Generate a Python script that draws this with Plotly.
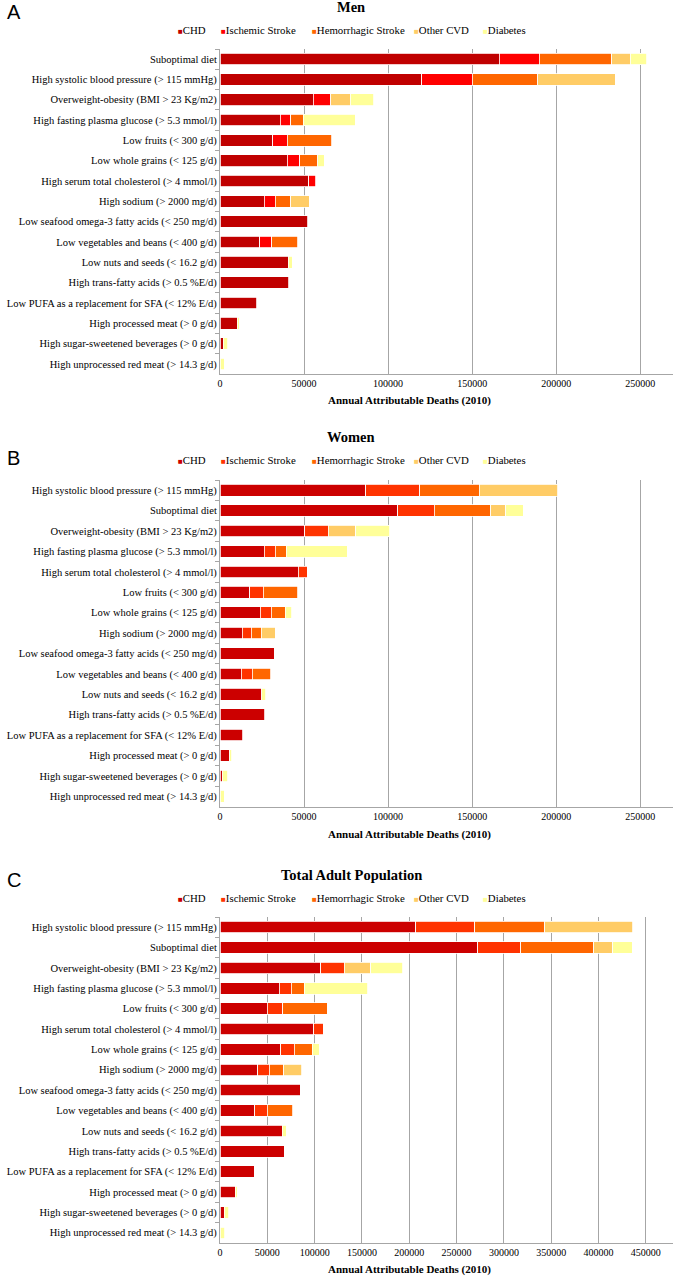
import plotly.graph_objects as go

W, H = 675, 1278

causes = ["CHD", "Ischemic Stroke", "Hemorrhagic Stroke", "Other CVD", "Diabetes"]
colors_men = ["#C00000", "#FF0000", "#FF6600", "#FFCC66", "#FFFF99"]
colors_other = ["#CC0000", "#FF3300", "#FF6600", "#FFCC66", "#FFFF99"]

SBP = "High systolic blood pressure (> 115 mmHg)"
SUB = "Suboptimal diet"
OBE = "Overweight-obesity (BMI > 23 Kg/m2)"
GLU = "High fasting plasma glucose (> 5.3 mmol/l)"
FRU = "Low fruits (< 300 g/d)"
WGR = "Low whole grains (< 125 g/d)"
CHO = "High serum total cholesterol (> 4 mmol/l)"
SOD = "High sodium (> 2000 mg/d)"
OMG = "Low seafood omega-3 fatty acids (< 250 mg/d)"
VEG = "Low vegetables and beans (< 400 g/d)"
NUT = "Low nuts and seeds (< 16.2 g/d)"
TFA = "High trans-fatty acids (> 0.5 %E/d)"
PUF = "Low PUFA as a replacement for SFA (< 12% E/d)"
PMT = "High processed meat (> 0 g/d)"
SSB = "High sugar-sweetened beverages (> 0 g/d)"
RMT = "High unprocessed red meat (> 14.3 g/d)"

# ---- Men ----
men_categories = [SUB, SBP, OBE, GLU, FRU, WGR, CHO, SOD, OMG, VEG, NUT, TFA, PUF, PMT, SSB, RMT]
men_chd = [166000, 120000, 55400, 35900, 31400, 39900, 52700, 26250, 52300, 23500, 40650, 40850, 21700, 10300, 1800, 0]
men_is = [24000, 30000, 10500, 6300, 8700, 7500, 4100, 6500, 0, 7300, 0, 0, 0, 0, 0, 0]
men_hs = [43000, 39000, 0, 7300, 26400, 10700, 0, 9300, 0, 15400, 0, 0, 0, 0, 0, 0]
men_other = [11000, 46000, 11600, 0, 0, 0, 0, 10900, 0, 0, 0, 0, 0, 0, 0, 0]
men_diab = [10000, 0, 14000, 30800, 0, 3900, 0, 0, 0, 0, 2200, 0, 0, 1200, 2900, 2400]

# ---- Women ----
women_categories = [SBP, SUB, OBE, GLU, CHO, FRU, WGR, SOD, OMG, VEG, NUT, TFA, PUF, PMT, SSB, RMT]
women_chd = [86600, 105600, 50500, 26250, 46400, 17800, 23900, 13200, 32200, 12600, 24900, 26600, 13600, 5500, 1200, 0]
women_is = [32200, 21700, 14000, 6500, 5500, 7900, 6700, 5300, 0, 6500, 0, 0, 0, 0, 0, 0]
women_hs = [35300, 33900, 0, 6500, 0, 20500, 8100, 5900, 0, 11000, 0, 0, 0, 0, 0, 0]
women_other = [46800, 8700, 16200, 0, 0, 0, 0, 8500, 0, 0, 0, 0, 0, 0, 0, 0]
women_diab = [0, 10400, 20300, 36500, 0, 0, 3900, 0, 0, 0, 2300, 0, 0, 1600, 3300, 2400]

# ---- Total ----
total_categories = [SBP, SUB, OBE, GLU, FRU, CHO, WGR, SOD, OMG, VEG, NUT, TFA, PUF, PMT, SSB, RMT]
total_chd = [206900, 272100, 106600, 62800, 49800, 99250, 64200, 40000, 84900, 36800, 65600, 68000, 36100, 16100, 4200, 0]
total_is = [62100, 45600, 24600, 12600, 16500, 9850, 14000, 11900, 0, 13350, 0, 0, 0, 0, 0, 0]
total_hs = [74300, 77500, 0, 13700, 47000, 0, 19000, 15400, 0, 26650, 0, 0, 0, 0, 0, 0]
total_other = [93000, 19700, 28000, 0, 0, 0, 0, 19000, 0, 0, 0, 0, 0, 0, 0, 0]
total_diab = [0, 20700, 34000, 67000, 0, 0, 7700, 0, 0, 0, 4500, 0, 0, 2100, 4900, 4900]

x_tick_values_small = [0, 50000, 100000, 150000, 200000, 250000]
x_tick_values_total = [0, 50000, 100000, 150000, 200000, 250000, 300000, 350000, 400000, 450000]

panels = [
    dict(letter="A", title="Men", cats=men_categories,
         series=[men_chd, men_is, men_hs, men_other, men_diab], colors=colors_men,
         top=49, bottom=374, xmax=269500, ticks=x_tick_values_small,
         title_y=7, legend_y=30, letter_y=12, xtitle_y=401),
    dict(letter="B", title="Women", cats=women_categories,
         series=[women_chd, women_is, women_hs, women_other, women_diab], colors=colors_other,
         top=480, bottom=806.5, xmax=269500, ticks=x_tick_values_small,
         title_y=437, legend_y=460, letter_y=458, xtitle_y=834),
    dict(letter="C", title="Total Adult Population", cats=total_categories,
         series=[total_chd, total_is, total_hs, total_other, total_diab], colors=colors_other,
         top=917, bottom=1243, xmax=478700, ticks=x_tick_values_total,
         title_y=875, legend_y=898, letter_y=880, xtitle_y=1269),
]

legend_x = [174, 217, 308, 411, 480]

SERIF = "Liberation Serif, Times New Roman, serif"
SANS = "Liberation Sans, Arial, sans-serif"
GRID = "#A6A6A6"

def py(p):
    return 1 - p / H

def px(p):
    return p / W

fig = go.Figure()
annotations = []
layout_axes = {}

for i, p in enumerate(panels):
    n = "" if i == 0 else str(i + 1)
    xa, ya = "x" + n, "y" + n
    for cause, vals, col in zip(causes, p["series"], p["colors"]):
        fig.add_trace(go.Bar(
            y=p["cats"], x=[v if v else None for v in vals], orientation="h",
            name=cause, marker=dict(color=col, line=dict(color="white", width=0.8)),
            xaxis=xa, yaxis=ya, showlegend=False,
        ))
    layout_axes["xaxis" + n] = dict(
        domain=[px(218), px(673)], range=[0, p["xmax"]], anchor=ya,
        tickvals=p["ticks"], ticktext=[str(t) for t in p["ticks"]],
        showgrid=True, gridcolor=GRID, gridwidth=1.2,
        showline=True, linecolor=GRID, linewidth=1.2,
        ticks="", zeroline=False,
        tickfont=dict(family=SERIF, size=10, color="black"),
        fixedrange=True,
    )
    layout_axes["yaxis" + n] = dict(
        domain=[py(p["bottom"]), py(p["top"])], anchor=xa,
        type="category", categoryorder="array", categoryarray=p["cats"],
        autorange="reversed",
        showline=True, linecolor=GRID, linewidth=1.2,
        ticks="outside", tickson="boundaries", ticklen=4, tickcolor=GRID,
        tickfont=dict(family=SERIF, size=10.5, color="black"),
        showgrid=False, fixedrange=True,
    )
    annotations.append(dict(text=p["letter"], x=px(11), y=py(p["letter_y"]), xref="paper", yref="paper",
                            showarrow=False, xanchor="center", yanchor="middle",
                            font=dict(family=SANS, size=20, color="black")))
    annotations.append(dict(text="<b>" + p["title"] + "</b>", x=px(350), y=py(p["title_y"]),
                            xref="paper", yref="paper", showarrow=False,
                            xanchor="center", yanchor="middle",
                            font=dict(family=SERIF, size=14.5, color="black")))
    for cause, col, lx in zip(causes, p["colors"], legend_x):
        annotations.append(dict(
            text='<span style="color:%s;font-size:8px">■</span>%s' % (col, cause),
            x=px(lx), y=py(p["legend_y"]), xref="paper", yref="paper", showarrow=False,
            xanchor="left", yanchor="middle",
            font=dict(family=SERIF, size=10.8, color="black")))
    annotations.append(dict(text="<b>Annual Attributable Deaths (2010)</b>", x=px(408), y=py(p["xtitle_y"]),
                            xref="paper", yref="paper", showarrow=False,
                            xanchor="center", yanchor="middle",
                            font=dict(family=SERIF, size=11, color="black")))

fig.update_layout(
    width=W, height=H,
    margin=dict(l=0, r=0, t=0, b=0),
    paper_bgcolor="white", plot_bgcolor="white",
    barmode="stack", bargap=0.43,
    annotations=annotations,
    **layout_axes,
)

fig.write_html("out.html", config={"displayModeBar": False},
               post_script="document.body.style.margin='0';document.body.style.overflow='hidden';")
